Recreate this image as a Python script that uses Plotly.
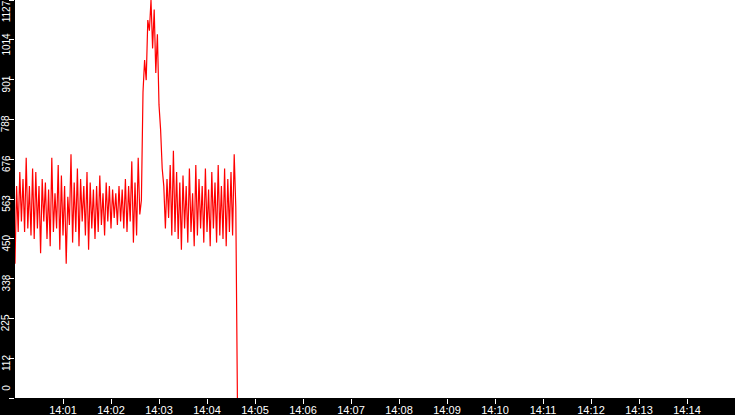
import plotly.graph_objects as go
import pandas as pd

# --- data -----------------------------------------------------------------
start = pd.Timestamp("2024-01-01 14:00:00")
sample_seconds = 2

# regular oscillation before the spike (t = 0 .. 158 s)
values_before = [
    380, 600, 470, 640, 500, 620, 470, 680, 480, 600,
    460, 650, 450, 640, 480, 600, 410, 620, 500, 610,
    450, 590, 430, 680, 470, 580, 480, 660, 420, 630,
    460, 600, 380, 570, 490, 690, 440, 610, 470, 650,
    430, 620, 500, 600, 460, 640, 420, 610, 480, 590,
    450, 600, 470, 630, 490, 580, 460, 610, 500, 600,
    480, 590, 510, 580, 490, 600, 500, 590, 480, 620,
    470, 600, 500, 670, 440, 610, 460, 680, 520, 560,
]
# spike (t = 160 .. 184 s)
values_spike = [866, 957, 900, 1070, 1040, 1127, 990, 1100, 920, 1030, 830, 760, 650]
# oscillation after the spike (t = 186 .. 276 s)
values_after = [
    600, 480, 620, 510, 660, 460, 700, 470, 640, 450,
    610, 420, 630, 480, 600, 440, 650, 470, 580, 430,
    660, 460, 620, 480, 600, 440, 650, 470, 590, 430,
    640, 480, 610, 440, 660, 460, 600, 450, 650, 430,
    620, 470, 640, 460, 690, 540,
]
# final drop
values_drop = [270, 0]
drop_seconds = [277, 278]

values = values_before + values_spike + values_after
times = [start + pd.Timedelta(seconds=sample_seconds * i) for i in range(len(values))]
times += [start + pd.Timedelta(seconds=s) for s in drop_seconds]
values += values_drop

y_max = 1127
y_tick_count = 10
y_tickvals = [y_max * i / y_tick_count for i in range(y_tick_count + 1)]
y_ticktext = [str(int(v)) for v in y_tickvals]

x_tick_minutes = list(range(1, 15))
x_tickvals = [start + pd.Timedelta(minutes=m) for m in x_tick_minutes]
x_ticktext = [t.strftime("%H:%M") for t in x_tickvals]

# --- figure ---------------------------------------------------------------
fig = go.Figure()
fig.add_trace(go.Scatter(
    x=times, y=values, mode="lines",
    line=dict(color="#ff0000", width=1.2),
    showlegend=False, hoverinfo="skip",
))

# y tick labels: rotated, drawn slightly below their ticks, kept inside the plot height
label_font = dict(family="Liberation Sans, Arial, sans-serif", size=10, color="#ffffff")
for i, (v, txt) in enumerate(zip(y_tickvals, y_ticktext)):
    if i == 0:
        shift = 10.5
    elif i == len(y_tickvals) - 1:
        shift = -11
    else:
        shift = -4.5
    fig.add_annotation(
        x=0, xref="paper", y=v, yref="y", text=txt, textangle=-90,
        showarrow=False, xanchor="center", yanchor="middle",
        xshift=-8.7, yshift=shift, font=label_font,
    )

fig.update_layout(
    width=735, height=415,
    margin=dict(l=15, r=0, t=0, b=17, pad=0),
    paper_bgcolor="#000000",
    plot_bgcolor="#ffffff",
    font=dict(family="Liberation Sans, Arial, sans-serif", color="#ffffff"),
)
fig.update_xaxes(
    range=[start, start + pd.Timedelta(minutes=15)],
    tickvals=x_tickvals, ticktext=x_ticktext,
    ticks="outside", ticklen=5, tickwidth=1, tickcolor="#ffffff",
    tickfont=dict(size=11, color="#ffffff"),
    ticklabelstandoff=-3,
    showgrid=False, zeroline=False, showline=False, automargin=False,
)
fig.update_yaxes(
    range=[0, y_max],
    tickvals=y_tickvals, showticklabels=False,
    ticks="outside", ticklen=5, tickwidth=1, tickcolor="#ffffff",
    showgrid=False, zeroline=False, showline=False, automargin=False,
)

fig.write_html(
    "out.html",
    config={"displayModeBar": False},
    post_script="document.body.style.margin='0';document.body.style.background='#000';",
)
